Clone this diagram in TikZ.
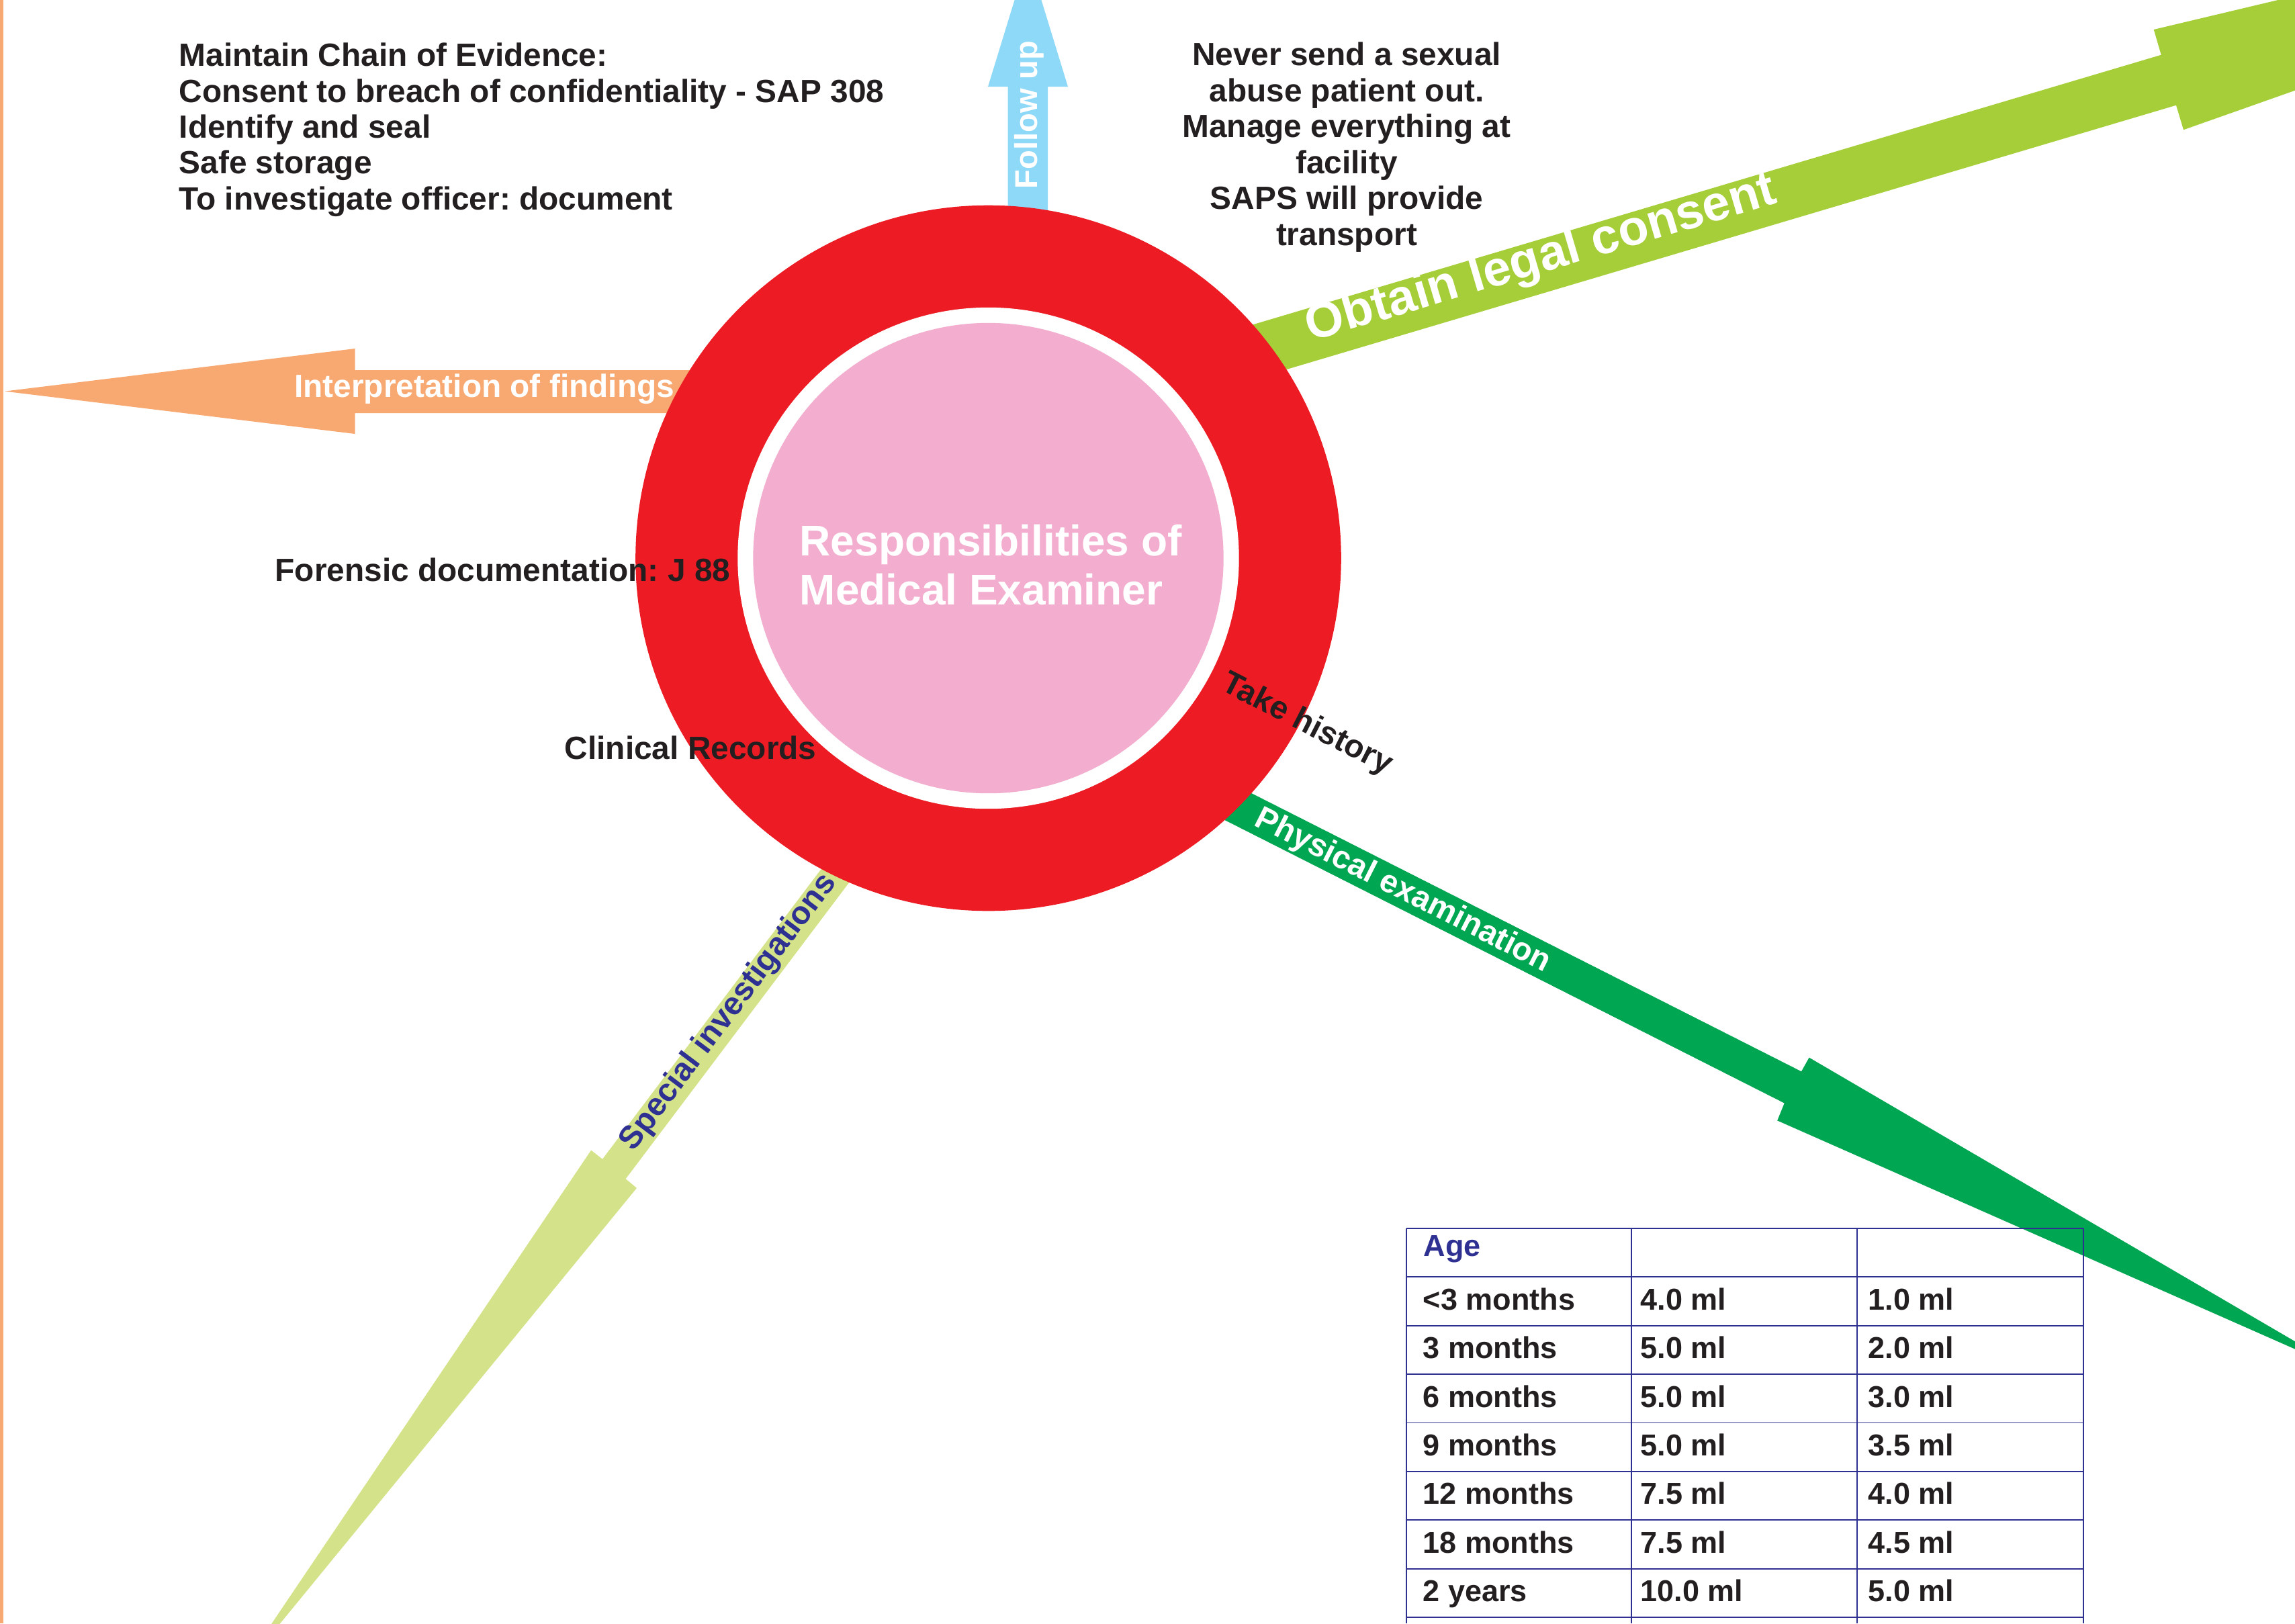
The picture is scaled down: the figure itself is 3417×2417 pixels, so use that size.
\documentclass[tikz,border=0pt]{standalone}
\usepackage{fontspec}
\setmainfont{Liberation Sans}
\frenchspacing
\definecolor{findorange}{HTML}{F8A972}
\definecolor{followblue}{HTML}{8ED8F8}
\definecolor{consentgreen}{HTML}{A6CE39}
\definecolor{examgreen}{HTML}{00A651}
\definecolor{specialgreen}{HTML}{D4E38A}
\definecolor{ringred}{HTML}{ED1C24}
\definecolor{corepink}{HTML}{F3ADCE}
\definecolor{darktext}{HTML}{231F20}
\definecolor{navy}{HTML}{2E3192}

\begin{document}
\begin{tikzpicture}[x=0.01cm,y=-0.01cm,
    txt/.style={font=\fontsize{13.6}{15.2}\selectfont\bfseries,text=darktext,inner sep=0pt},
    wtxt/.style={txt,text=white},
    tabtxt/.style={font=\fontsize{12.8}{15}\selectfont\bfseries,text=darktext,inner sep=0pt,anchor=base west},
    tabline/.style={draw=navy,line width=0.5pt}]
    \useasboundingbox (0,0) rectangle (3417,2417);
    \clip (0,0) rectangle (3417,2417);
    \fill[findorange] (0,0) rectangle (5,2417);
    \fill[findorange] (1100,551) -- (528.6,551) -- (528.6,519) -- (7,582.6) -- (528.6,646) -- (528.6,615) -- (1100,615) -- cycle;
    \fill[followblue] (1500.7,500) -- (1500.7,129) -- (1471,129) -- (1530.5,-65) -- (1590,129) -- (1560,129) -- (1560,500) -- cycle;
    \fill[consentgreen] (1750,517.6) -- (3217.7,81.7) -- (3206.7,44) -- (4640,-297) -- (3251,193.3) -- (3240,156.7) -- (1750,599.2) -- cycle;
    \fill[examgreen] (1750,1123.7) -- (2682,1595.3) -- (2693.6,1574.6) -- (3497,2044) -- (2646.2,1668.4) -- (2656.7,1642.5) -- (1750,1183.8) -- cycle;
    \fill[specialgreen] (1255.8,1250) -- (897,1725.8) -- (880.1,1712.6) -- (346,2504) -- (948,1768.9) -- (931.6,1755.2) -- (1312.5,1250) -- cycle;
    \node (ring) [circle,fill=ringred,inner sep=0pt,minimum size=10.5cm] at (1471.5,831) {};
    \node (gap) [circle,fill=white,inner sep=0pt,minimum size=7.46cm] at (ring.center) {};
    \node (core) [circle,fill=corepink,inner sep=0pt,minimum size=7cm] at (ring.center) {};
    \node (title) [wtxt,font=\fontsize{18.2}{20.5}\selectfont\bfseries,anchor=base west,align=left] at (1190,900) {Responsibilities of\\Medical Examiner};
    \node (evidence) [txt,anchor=base west,align=left] at (266,312.4) {Maintain Chain of Evidence:\\Consent to breach of confidentiality - SAP 308\\Identify and seal\\Safe storage\\To investigate officer: document};
    \node (transport) [txt,anchor=base,align=center] at (2005,365) {Never send a sexual\\abuse patient out.\\Manage everything at\\facility\\SAPS will provide\\transport};
    \node (findings) [wtxt,anchor=base west] at (437.5,591.5) {Interpretation of findings};
    \node (followup) [wtxt,font=\fontsize{13.4}{15}\selectfont\bfseries,anchor=base west,rotate=90] at (1544,281.7) {Follow up};
    \node (consent) [wtxt,font=\fontsize{21}{24}\selectfont\bfseries,anchor=base,rotate=16.5] at (2300,405) {Obtain legal consent};
    \node (forensic) [txt,anchor=base east] at (1088,865) {Forensic documentation: J 88};
    \node (clinical) [txt,anchor=base west] at (840,1130) {Clinical Records};
    \node (history) [txt,anchor=base,rotate=-27] at (1940,1090) {Take history};
    \node (physical) [wtxt,anchor=base,rotate=-26.8] at (2083,1338) {Physical examination};
    \node (special) [txt,text=navy,anchor=base,rotate=53] at (1095,1515) {Special investigations};
    \foreach \k in {0,...,8} {
      \draw[tabline] (2093.6,{1828.8+72.4*\k}) -- (3102,{1828.8+72.4*\k});
    }
    \foreach \x in {2093.6,2429,2765,3102} {
      \draw[tabline] (\x,1828.8) -- (\x,2417);
    }
    \node (agehead) [tabtxt,text=navy] at (2119,1870.2) {Age};
    \foreach \a/\b/\c [count=\i] in {<3 months/4.0 ml/1.0 ml, 3 months/5.0 ml/2.0 ml, 6 months/5.0 ml/3.0 ml, 9 months/5.0 ml/3.5 ml, 12 months/7.5 ml/4.0 ml, 18 months/7.5 ml/4.5 ml, 2 years/10.0 ml/5.0 ml} {
      \node (age\i) [tabtxt] at (2118,{1877.8+72.4*\i}) {\a};
      \node (first\i) [tabtxt] at (2442,{1877.8+72.4*\i}) {\b};
      \node (second\i) [tabtxt] at (2781,{1877.8+72.4*\i}) {\c};
    }
  \end{tikzpicture}
\end{document}
